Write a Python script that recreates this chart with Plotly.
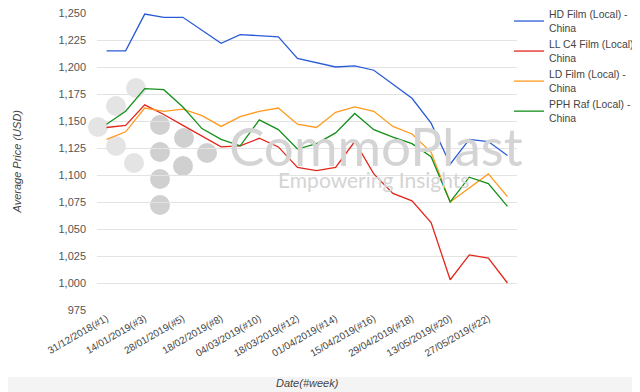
import plotly.graph_objects as go

categories = ["31/12/2018(#1)", "07/01/2019(#2)", "14/01/2019(#3)", "21/01/2019(#4)",
              "28/01/2019(#5)", "11/02/2019(#7)", "18/02/2019(#8)", "25/02/2019(#9)",
              "04/03/2019(#10)", "11/03/2019(#11)", "18/03/2019(#12)", "25/03/2019(#13)",
              "01/04/2019(#14)", "08/04/2019(#15)", "15/04/2019(#16)", "22/04/2019(#17)",
              "29/04/2019(#18)", "06/05/2019(#19)", "13/05/2019(#20)", "20/05/2019(#21)",
              "27/05/2019(#22)", "03/06/2019(#23)"]
tick_labels = categories[0:21:2]

hd_film = [1215, 1215, 1249, 1246, 1246, 1234, 1222, 1230, 1229, 1228, 1208, 1204,
           1200, 1201, 1197, 1184, 1171, 1148, 1110, 1133, 1131, 1118]
ll_c4_film = [1144, 1146, 1165, 1156, 1146, 1136, 1126, 1127, 1134, 1126, 1107, 1104,
              1107, 1131, 1101, 1083, 1076, 1056, 1003, 1026, 1023, 1000]
ld_film = [1133, 1140, 1162, 1159, 1161, 1155, 1145, 1154, 1159, 1162, 1147, 1144,
           1158, 1163, 1159, 1145, 1138, 1121, 1075, 1088, 1101, 1080]
pph_raf = [1147, 1159, 1180, 1179, 1163, 1143, 1133, 1127, 1151, 1142, 1124, 1129,
           1139, 1157, 1142, 1135, 1129, 1117, 1075, 1098, 1092, 1071]

series = [
    ("HD Film (Local) -<br>China", hd_film, "#2a5bd7"),
    ("LL C4 Film (Local) -<br>China", ll_c4_film, "#e3261b"),
    ("LD Film (Local) -<br>China", ld_film, "#ff9a1f"),
    ("PPH Raf (Local) -<br>China", pph_raf, "#14901a"),
]

fig = go.Figure()
for name, vals, color in series:
    fig.add_trace(go.Scatter(x=categories, y=vals, mode="lines", name=name,
                             line=dict(color=color, width=1.3)))

# page body has an 8px margin: figure is 632x384 placed at (8, 8)
OFF = 8
W, H = 640 - OFF, 392 - OFF
L, R, T, B = 97, 517, 13, 310  # plot area in window pixels
def px(x):
    return (x - L) / (R - L)
def py(y):
    return (B - y) / (B - T)
def cx(x):
    return (x - OFF) / W

light = [(98, 127), (116, 106), (136, 88), (116, 146), (134, 163)]
dark = [(160, 125), (160, 152), (160, 179), (184, 138), (183, 166), (207, 153), (160, 205)]
shapes = []
for pts, col in ((light, "#e4e4e4"), (dark, "#d0d0d0")):
    for (x0, y0) in pts:
        r = 10
        shapes.append(dict(type="circle", xref="paper", yref="paper",
                           x0=px(x0 - r), x1=px(x0 + r), y0=py(y0 + r), y1=py(y0 - r),
                           fillcolor=col, line=dict(width=0), layer="below"))
shapes.append(dict(type="rect", xref="paper", yref="paper", x0=-1, x1=2,
                   y0=py(400), y1=py(377), fillcolor="#f4f4f4", line=dict(width=0),
                   layer="below"))

fig.update_layout(
    width=W, height=H,
    margin=dict(l=L - OFF, r=640 - R, t=T - OFF, b=392 - B, autoexpand=False),
    paper_bgcolor="white", plot_bgcolor="white",
    font=dict(family="Liberation Sans, Arial, sans-serif", size=11, color="#444"),
    shapes=shapes,
    annotations=[
        dict(text="CommoPlast", xref="paper", yref="paper", x=px(376), y=py(145),
             showarrow=False, font=dict(family="Lato, sans-serif", size=53, color="#d4d4d4"),
             xanchor="center", yanchor="middle"),
        dict(text="Empowering Insights", xref="paper", yref="paper", x=px(373), y=py(179),
             showarrow=False, font=dict(family="Lato, sans-serif", size=21, color="#d4d4d4"),
             xanchor="center", yanchor="middle"),
        dict(text="<i>Date(#week)</i>", xref="paper", yref="paper", x=0.5, y=py(383),
             showarrow=False, font=dict(size=11, color="#444"),
             xanchor="center", yanchor="middle"),
        dict(text="<i>Average Price (USD)</i>", xref="paper", yref="paper", x=px(16), y=0.5,
             showarrow=False, font=dict(size=11, color="#444"), textangle=-90,
             xanchor="center", yanchor="middle"),
    ],
    showlegend=True,
    legend=dict(x=cx(509), xanchor="left", y=py(1), yanchor="top",
                xref="container", yref="paper",
                font=dict(size=10.4, color="#444"), bgcolor="rgba(0,0,0,0)",
                itemwidth=30, tracegroupgap=0),
    xaxis=dict(type="category", tickmode="array", tickvals=tick_labels, ticktext=tick_labels,
               range=[-0.5, len(categories) - 0.5],
               tickangle=-30, showgrid=False, showline=False, zeroline=False, ticks="",
               automargin=False, ticklabeloverflow="allow",
               tickfont=dict(size=10, color="#444")),
    yaxis=dict(range=[975, 1250], tickmode="linear", tick0=975, dtick=25, tickformat=",",
               showgrid=True, gridcolor="#e3e3e3", gridwidth=1, zeroline=False,
               showline=False, ticks="", ticklabelstandoff=10, automargin=False,
               ticklabeloverflow="allow",
               tickfont=dict(size=11, color="#555")),
)

fig.write_html("out.html")
